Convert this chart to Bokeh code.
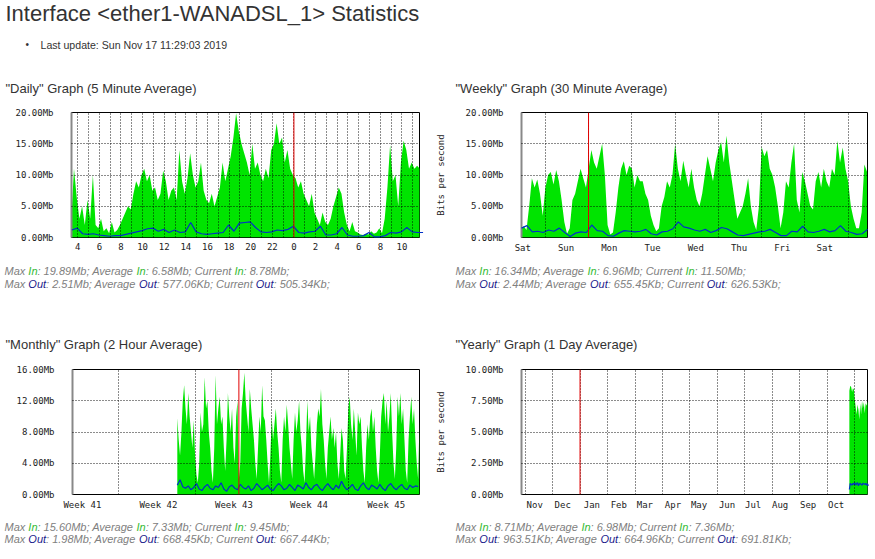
import numpy as np
from bokeh.plotting import figure
from bokeh.models import Range1d, FixedTicker, Span, Label
from bokeh.layouts import column, row
from bokeh.embed import file_html
from bokeh.resources import INLINE

# ---------------- texts ----------------
page_title = "Interface <ether1-WANADSL_1> Statistics"
last_update = "Last update: Sun Nov 17 11:29:03 2019"
graph_titles = ['"Daily" Graph (5 Minute Average)', '"Weekly" Graph (30 Minute Average)',
                '"Monthly" Graph (2 Hour Average)', '"Yearly" Graph (1 Day Average)']

# stats: (max, average, current) for In, then Out
daily_stats_in = ["19.89Mb", "6.58Mb", "8.78Mb"]
daily_stats_out = ["2.51Mb", "577.06Kb", "505.34Kb"]
weekly_stats_in = ["16.34Mb", "6.96Mb", "11.50Mb"]
weekly_stats_out = ["2.44Mb", "655.45Kb", "626.53Kb"]
monthly_stats_in = ["15.60Mb", "7.33Mb", "9.45Mb"]
monthly_stats_out = ["1.98Mb", "668.45Kb", "667.44Kb"]
yearly_stats_in = ["8.71Mb", "6.98Mb", "7.36Mb"]
yearly_stats_out = ["963.51Kb", "664.96Kb", "691.81Kb"]

# ---------------- daily (x: hours since Sat Nov 16 00:00, Mb/s) ----------------
daily_in_start, daily_in_step = 3.4, 0.25
daily_in = [3, 11, 6.5, 3, 5, 2, 6, 3, 10, 2, 1.5, 3, 1, 1.5, 0.7, 2.5, 0.8, 1.2, 2, 3,
            4, 5, 4.5, 7, 9, 8, 10, 11, 9, 10, 7.5, 8, 6, 7, 10.7, 9, 6, 7.5, 8, 6,
            14, 9, 7, 9.5, 13.5, 10, 8, 9, 12, 7.5, 6, 5.5, 7, 5, 6.5, 8, 12, 9, 11, 13,
            16, 19.9, 17, 15, 13.5, 12, 10, 15, 11, 12, 10, 9, 11, 9.5, 14, 15, 18.3, 15, 16, 12,
            14, 11, 10, 9.5, 8, 9, 7, 6, 5, 7, 4, 3, 2, 4, 2.5, 2, 3, 5, 6.5, 8,
            7, 4, 2, 1, 2.5, 1, 0.8, 0.5, 0.4, 0.6, 0.5, 1, 0.6, 0.8, 1.5, 0.7, 3, 8, 14.8, 9,
            10, 5, 12, 15.5, 14, 11, 12, 11, 11.5, 11]
daily_out_start, daily_out_step = 3.45, 0.5
daily_out = [1.2, 1.5, 0.6, 0.5, 0.6, 0.4, 0.3, 0.2, 0.3, 0.3, 0.5, 0.7, 0.9, 1.1, 1.4, 1.5,
             1.0, 1.3, 0.8, 1.2, 0.8, 0.9, 2.4, 0.9, 0.6, 0.5, 0.6, 0.7, 0.8, 2.0, 1.0, 2.3,
             2.4, 2.5, 1.6, 0.9, 0.8, 0.9, 1.2, 1.1, 1.3, 1.8, 0.8, 0.7, 0.9, 1.0, 1.8, 0.4,
             0.4, 0.6, 1.6, 0.4, 0.2, 0.2, 0.3, 0.8, 0.1, 0.1, 0.3, 0.8, 0.7, 0.9, 1.6, 0.9,
             0.8, 0.8]
daily_x_range = (3.42, 35.62)
daily_x_ticks = [4, 6, 8, 10, 12, 14, 16, 18, 20, 22, 24, 26, 28, 30, 32, 34]
daily_x_labels = ["4", "6", "8", "10", "12", "14", "16", "18", "20", "22",
                  "0", "2", "4", "6", "8", "10"]
daily_x_grid = list(range(4, 36))
daily_red = 24
daily_y_ticks = [0, 5, 10, 15, 20]
daily_y_labels = ["0.00Mb", "5.00Mb", "10.00Mb", "15.00Mb", "20.00Mb"]

# ---------------- weekly (x: days since Sat Nov 9 00:00) ----------------
weekly_in_start, weekly_in_step = 0.44, 1 / 16
weekly_in = [1.5, 1.8, 1.2, 5, 9.5, 8, 9.3, 7, 3.5, 8, 10, 10.5, 8.5, 10.8, 9, 6, 2.5, 0.6, 1.5, 6,
             7, 9, 11, 9.5, 8, 11, 14, 12, 11, 13, 15, 10, 2, 0.5, 0.8, 4, 8, 11, 12.2, 10,
             11.5, 11, 8, 10, 9, 9, 7, 6, 3.5, 2, 1, 1.5, 5, 6.5, 9, 8, 10, 15, 11, 9,
             12.3, 10, 8, 11, 8, 6, 5, 7, 10, 13, 11, 9, 12, 14, 15.3, 12, 16.3, 12, 9, 6,
             3, 4, 5, 7, 9.5, 5, 2.5, 1.2, 5, 14.5, 13, 14, 11, 10, 8, 5, 1.5, 4, 9, 8,
             12, 15, 6, 4, 10.5, 9, 7, 5, 4.5, 9, 10.5, 8, 11, 9, 8, 11, 10, 15.5, 12, 14.4,
             11, 9, 5, 3, 1.5, 1.5, 4, 11.7, 10.5]
weekly_out_start, weekly_out_step = 0.45, 1 / 8
weekly_out = [1.5, 1.9, 0.9, 1.0, 0.8, 1.2, 1.0, 1.5, 0.8, 0.15, 0.7, 0.9, 0.8, 2.0, 1.1, 1.0,
              0.3, 0.2, 0.7, 1.1, 1.0, 0.9, 1.0, 1.3, 0.6, 0.4, 0.9, 1.0, 1.4, 2.5, 1.7, 1.5,
              1.2, 1.0, 1.3, 0.8, 1.1, 1.6, 1.4, 0.9, 0.4, 0.3, 0.5, 0.7, 0.9, 1.0, 1.3, 0.8,
              0.3, 0.3, 1.0, 0.9, 1.8, 0.9, 0.8, 1.0, 1.3, 0.9, 1.1, 1.9, 1.0, 0.8, 0.5, 0.6,
              1.3]
weekly_x_range = (0.45, 8.45)
weekly_x_ticks = [0.48, 1.48, 2.48, 3.48, 4.48, 5.48, 6.48, 7.46]
weekly_x_labels = ["Sat", "Sun", "Mon", "Tue", "Wed", "Thu", "Fri", "Sat"]
weekly_x_grid = [1, 2, 3, 4, 5, 6, 7, 8]
weekly_red = 2
weekly_y_ticks = [0, 5, 10, 15, 20]
weekly_y_labels = ["0.00Mb", "5.00Mb", "10.00Mb", "15.00Mb", "20.00Mb"]

# ---------------- monthly (x: days since Mon Nov 11 00:00) ----------------
monthly_in_start, monthly_in_step = -15.625, 0.125
monthly_in = [9.8, 7, 5, 8, 12, 14, 11, 9, 13, 10, 8, 6, 9.5, 5, 2.5, 1.5, 4, 10.5, 8, 9,
              15, 11, 12, 8, 6, 3, 1.5, 6, 15.3, 9, 11, 12.5, 9, 10, 6, 3, 7, 13, 10, 8,
              11, 6, 4, 10, 12, 2, 4, 11, 13, 15.6, 12, 10, 8, 13.5, 11, 9, 7, 4, 2, 6,
              10, 8, 14, 10, 9.5, 7, 4, 1.5, 5, 10, 7, 9, 11, 8, 6, 3, 1.5, 7, 10, 8,
              11.5, 9, 6, 4, 2, 7, 10.5, 8, 9.5, 12, 8, 6, 3, 1.5, 6, 12, 8, 10, 6, 4,
              2, 5, 9, 11, 10, 13.5, 9, 7, 4, 2, 6, 8, 10, 7, 8.5, 6, 8, 4, 2, 5,
              8.5, 7, 3, 2, 6, 11, 12.5, 9, 7, 11, 8, 5, 10.5, 9, 10, 6, 3, 1.5, 6, 9,
              7, 10, 11, 8, 10, 6, 3, 1.5, 5, 10, 12, 13, 9, 12, 8, 10, 13, 8, 4, 2,
              6, 12.5, 10, 13, 9, 11, 7, 3, 1.5, 7, 10, 12.5, 9, 11, 7, 4, 2, 9.5]
monthly_out_start, monthly_out_step = -15.625, 0.25
monthly_out = [1.2, 1.9, 1.0, 0.8, 1.1, 0.6, 0.9, 1.4, 0.7, 0.5, 1.0, 1.3, 0.8, 0.6, 1.1, 0.9,
               1.5, 0.7, 0.4, 1.0, 1.2, 0.8, 0.6, 1.3, 0.9, 0.7, 1.1, 0.5, 0.8, 1.4, 1.0, 0.6,
               0.9, 1.2, 0.7, 0.5, 1.0, 1.4, 1.1, 0.6, 0.8, 1.3, 0.9, 0.5, 1.2, 1.0, 0.7, 1.5,
               0.9, 0.6, 1.1, 1.3, 0.8, 0.5, 1.0, 1.4, 0.9, 0.6, 1.2, 0.8, 1.7, 1.0, 0.6, 0.9,
               1.3, 0.7, 0.5, 1.1, 1.5, 0.9, 0.6, 1.2, 1.0, 0.7, 1.3, 0.8, 0.5, 1.1, 1.4, 0.9,
               0.6, 1.0, 1.3, 0.8, 0.6, 1.2, 0.9, 1.1, 1.0]
monthly_x_range = (-25.2, 6.5)
monthly_x_ticks = [-24.3, -17.35, -10.45, -3.6, 3.45]
monthly_x_labels = ["Week 41", "Week 42", "Week 43", "Week 44", "Week 45"]
monthly_x_grid = [-21, -14, -7, 0]
monthly_red = -10
monthly_y_ticks = [0, 4, 8, 12, 16]
monthly_y_labels = ["0.00Mb", "4.00Mb", "8.00Mb", "12.00Mb", "16.00Mb"]

# ---------------- yearly (x: months since Jan 2019) ----------------
yearly_in_start, yearly_in_step = 9.80, 1 / 30.4
yearly_in = [8.3, 8.7, 8.6, 8.2, 8.5, 8.4, 7.6, 7.0, 6.4, 7.2, 6.8, 6.0, 7.3, 6.4, 7.5, 6.9,
             7.4, 6.5, 7.3, 7.1, 7.4, 7.36]
yearly_out_start, yearly_out_step = 9.80, 1 / 30.4
yearly_out = [0.4, 0.9, 0.8, 0.75, 0.9, 0.8, 0.95, 0.75, 0.85, 0.95, 0.7, 0.85, 0.9, 0.8, 0.75,
              0.9, 0.85, 0.8, 0.9, 0.75, 0.85, 0.7]
yearly_x_range = (-2.13, 10.46)
yearly_x_ticks = [-1.65, -0.63, 0.43, 1.41, 2.36, 3.38, 4.33, 5.35, 6.30, 7.28, 8.30, 9.32]
yearly_x_labels = ["Nov", "Dec", "Jan", "Feb", "Mar", "Apr", "May", "Jun", "Jul", "Aug", "Sep", "Oct"]
yearly_x_grid = [-2, -1, 0, 1, 2, 3, 4, 5, 6, 7, 8, 9, 10]
yearly_red = 0
yearly_y_ticks = [0, 2.5, 5, 7.5, 10]
yearly_y_labels = ["0.00Mb", "2.50Mb", "5.00Mb", "7.50Mb", "10.00Mb"]

# ---------------- styling ----------------
GREEN = "#00e400"
BLUE = "#0030c8"
TEXT = "#333333"
GRAY = "#808080"
IN_COL = "#33bb33"
OUT_COL = "#1a1a8c"
FONT = "Liberation Sans"
MONO = "DejaVu Sans Mono"
BASE_SHIFT = 0.36     # Bokeh places the alphabetic baseline this many em lower
STATS_SIZE = 11

# advance widths (per 1000 em) of the Arial-metric font, same for its italic
LS_W = {" ": 278, ".": 278, ":": 278, ";": 278, "M": 833, "a": 556, "x": 500, "I": 278,
        "n": 556, "b": 556, "K": 667, "A": 667, "v": 500, "e": 556, "r": 333, "g": 556,
        "C": 722, "u": 556, "t": 278, "O": 778}


def text_w(s, size):
    return sum(LS_W.get(c, 556) for c in s) / 1000.0 * size


def text_fig(width, height):
    p = figure(width=width, height=height, x_range=Range1d(0, width),
               y_range=Range1d(height, 0), output_backend="svg", toolbar_location=None,
               tools="", min_border=0, x_axis_location=None, y_axis_location=None)
    p.outline_line_color = None
    p.grid.visible = False
    p.background_fill_color = "white"
    p.border_fill_color = "white"
    return p


def add_text(p, x, baseline, text, size, color=TEXT, style="normal", font=FONT):
    p.add_layout(Label(x=x, y=baseline - BASE_SHIFT * size, text=text, text_font=font,
                       text_font_size=f"{size}px", text_color=color, text_font_style=style,
                       text_baseline="alphabetic", text_align="left"))


def add_stats(p, x0, y0, word, col, vals, size=STATS_SIZE):
    segs = [("Max ", GRAY), (word, col), (": " + vals[0] + "; Average ", GRAY), (word, col),
            (": " + vals[1] + "; Current ", GRAY), (word, col), (": " + vals[2] + ";", GRAY)]
    x = x0
    for s, c in segs:
        add_text(p, x, y0, s.rstrip(), size, color=c, style="italic")
        x += text_w(s, size)


def make_chart(width, height, bl, br, bt, bb, x_range, y_ticks, y_labels, x_ticks, x_labels,
               x_grid, red_x, t_in, v_in, t_out, v_out, ylabel=None):
    p = figure(width=width, height=height, x_range=Range1d(*x_range),
               y_range=Range1d(y_ticks[0], y_ticks[-1]), output_backend="svg",
               toolbar_location=None, tools="", min_border_left=bl, min_border_right=br,
               min_border_top=bt, min_border_bottom=bb)
    p.background_fill_color = "white"
    p.border_fill_color = "white"
    p.outline_line_color = "black"
    p.outline_line_width = 1

    p.varea(x=t_in, y1=np.zeros(len(v_in)), y2=v_in, fill_color=GREEN)
    p.line(x=t_out, y=v_out, line_color=BLUE, line_width=1.2, level="overlay")

    p.xaxis.ticker = FixedTicker(ticks=x_ticks)
    p.xaxis.major_label_overrides = dict(zip(x_ticks, x_labels))
    p.yaxis.ticker = FixedTicker(ticks=y_ticks)
    p.yaxis.major_label_overrides = dict(zip(y_ticks, y_labels))
    p.xgrid.ticker = FixedTicker(ticks=x_grid)
    p.ygrid.ticker = FixedTicker(ticks=y_ticks)
    for g in (p.xgrid[0], p.ygrid[0]):
        g.grid_line_color = "black"
        g.grid_line_alpha = 0.9
        g.grid_line_dash = "1 2"
        g.level = "overlay"
    for ax in (p.xaxis[0], p.yaxis[0]):
        ax.major_tick_in = 0
        ax.major_tick_out = 0
        ax.minor_tick_in = 0
        ax.minor_tick_out = 0
        ax.major_label_text_font = MONO
        ax.major_label_text_font_size = "9px"
        ax.major_label_text_color = "#222222"
    p.xaxis.axis_line_color = None
    p.yaxis.axis_line_color = "#888888"
    p.yaxis.axis_line_width = 2
    p.xaxis.major_label_standoff = 5
    p.yaxis.major_label_standoff = 18
    if ylabel:
        p.yaxis.axis_label = ylabel
        p.yaxis.axis_label_text_font = MONO
        p.yaxis.axis_label_text_font_size = "9px"
        p.yaxis.axis_label_text_font_style = "normal"
        p.yaxis.axis_label_text_color = "#222222"
        p.yaxis.axis_label_standoff = 17
    p.add_layout(Span(location=red_x, dimension="height", line_color="#e00000",
                      line_width=1, level="overlay"))
    return p


def times(start, step, vals):
    return start + step * np.arange(len(vals))


# ---- chart rows: top row page y 104..255, bottom row page y 361..512 ----
LW, RW = 429, 446
p1 = make_chart(LW, 151, 71, 10, 8, 18, daily_x_range, daily_y_ticks, daily_y_labels,
                daily_x_ticks, daily_x_labels, daily_x_grid, daily_red,
                times(daily_in_start, daily_in_step, daily_in), daily_in,
                times(daily_out_start, daily_out_step, daily_out), daily_out)
p2 = make_chart(RW, 151, 92, 8, 8, 18, weekly_x_range, weekly_y_ticks, weekly_y_labels,
                weekly_x_ticks, weekly_x_labels, weekly_x_grid, weekly_red,
                times(weekly_in_start, weekly_in_step, weekly_in), weekly_in,
                times(weekly_out_start, weekly_out_step, weekly_out), weekly_out,
                ylabel="Bits per second")
p3 = make_chart(LW, 151, 72, 10, 8, 18, monthly_x_range, monthly_y_ticks, monthly_y_labels,
                monthly_x_ticks, monthly_x_labels, monthly_x_grid, monthly_red,
                times(monthly_in_start, monthly_in_step, monthly_in), monthly_in,
                times(monthly_out_start, monthly_out_step, monthly_out), monthly_out)
p4 = make_chart(RW, 151, 92, 8, 8, 18, yearly_x_range, yearly_y_ticks, yearly_y_labels,
                yearly_x_ticks, yearly_x_labels, yearly_x_grid, yearly_red,
                times(yearly_in_start, yearly_in_step, yearly_in), yearly_in,
                times(yearly_out_start, yearly_out_step, yearly_out), yearly_out,
                ylabel="Bits per second")

# ---- text bands (baselines in band pixels) ----
h1 = text_fig(875, 104)   # page y 0..104
add_text(h1, 5, 20.5, page_title, 22)
add_text(h1, 25, 47.5, "\u2022", 10)
add_text(h1, 40, 48.3, last_update, 10.6)
add_text(h1, 5, 92.7, graph_titles[0], 13)
add_text(h1, 455, 92.7, graph_titles[1], 13)

h2 = text_fig(875, 106)   # page y 255..361
add_stats(h2, 4, 19.5, "In", IN_COL, daily_stats_in)
add_stats(h2, 4, 32, "Out", OUT_COL, daily_stats_out)
add_stats(h2, 455, 19.5, "In", IN_COL, weekly_stats_in)
add_stats(h2, 455, 32, "Out", OUT_COL, weekly_stats_out)
add_text(h2, 5, 94, graph_titles[2], 13)
add_text(h2, 455, 94, graph_titles[3], 13)

h3 = text_fig(875, 47)    # page y 512..559
add_stats(h3, 4, 18, "In", IN_COL, monthly_stats_in)
add_stats(h3, 4, 30.5, "Out", OUT_COL, monthly_stats_out)
add_stats(h3, 455, 18, "In", IN_COL, yearly_stats_in)
add_stats(h3, 455, 30.5, "Out", OUT_COL, yearly_stats_out)

layout = column(h1, row(p1, p2), h2, row(p3, p4), h3)
open("out.html", "w").write(file_html(layout, INLINE))
